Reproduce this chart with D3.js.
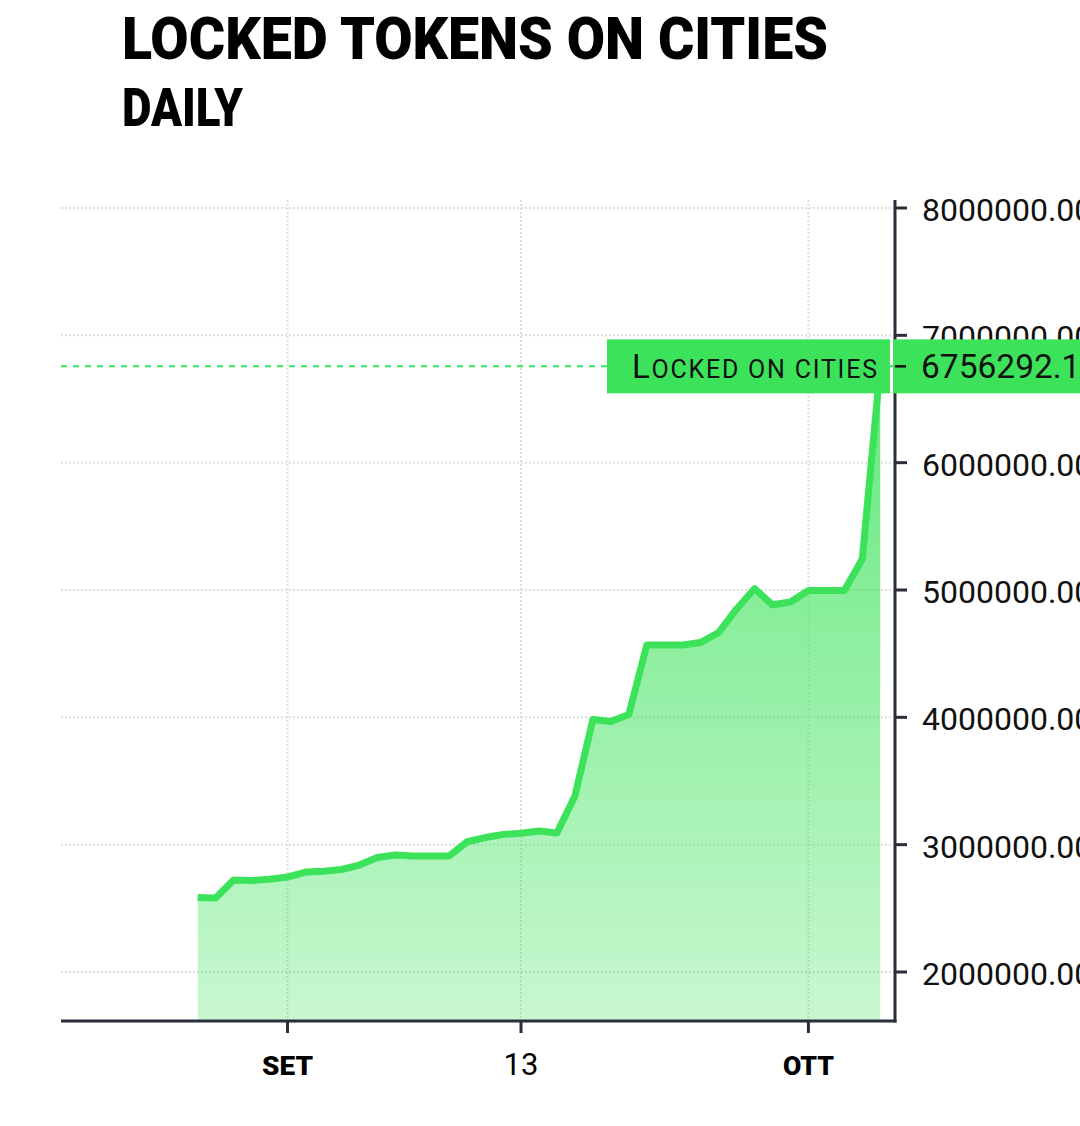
<!DOCTYPE html>
<html><head><meta charset="utf-8">
<script src="https://cdn.jsdelivr.net/npm/d3@7"></script>
<style>html,body{margin:0;padding:0;background:#fff;overflow:hidden}</style>
</head><body><svg id="c" width="1080" height="1126"></svg>
<script>
// ---- data ----
const title = "LOCKED TOKENS ON CITIES";
const subtitle = "DAILY";
const seriesName = "Locked on cities";
const values = [2585000, 2582000, 2722000, 2719000, 2728000, 2746000, 2785000, 2791000, 2805000, 2840000,
  2899000, 2919000, 2911000, 2911000, 2911000, 3023000, 3056000, 3080000, 3089000, 3107000,
  3092000, 3382000, 3983000, 3967000, 4022000, 4568000, 4568000, 4568000, 4588000, 4666000,
  4851000, 5010000, 4884000, 4906000, 4996000, 4996000, 4996000, 5244000, 6756292.1];
const xTickIndex = [5, 18, 34];
const xTickLabels = ["SET", "13", "OTT"];
const xTickBold = [true, false, true];
const yTicks = [2000000, 3000000, 4000000, 5000000, 6000000, 7000000, 8000000];

// ---- layout ----
const L = 61, R = 895, T = 200, B = 1021;
const green = "#3ce35a", axisCol = "#2a2d3a", gridCol = "#dedede";
const svg = d3.select("#c");
const x = d3.scaleLinear().domain([-7.61, 38.82]).range([L, R]);
const y = d3.scaleLinear().domain([1615200, 8062800]).range([B, T]);

// titles
svg.append("text").attr("x", 122).attr("y", 59).attr("font-family", "Roboto").attr("font-weight", 900)
  .attr("font-size", 59).attr("fill", "#000").attr("textLength", 706).attr("lengthAdjust", "spacingAndGlyphs").text(title);
svg.append("text").attr("x", 122).attr("y", 126).attr("font-family", "Roboto").attr("font-weight", 900)
  .attr("font-size", 53).attr("fill", "#000").attr("textLength", 121).attr("lengthAdjust", "spacingAndGlyphs").text(subtitle);

// grid
const grid = svg.append("g").attr("stroke", gridCol).attr("stroke-width", 2).attr("stroke-dasharray", "2,2");
grid.selectAll("line.h").data(yTicks).join("line").attr("class", "h")
  .attr("x1", L).attr("x2", R).attr("y1", d => y(d)).attr("y2", d => y(d));
grid.selectAll("line.v").data(xTickIndex).join("line").attr("class", "v")
  .attr("x1", d => x(d)).attr("x2", d => x(d)).attr("y1", T).attr("y2", B);

// area gradient
const last = values[values.length - 1];
const defs = svg.append("defs");
const grad = defs.append("linearGradient").attr("id", "ag").attr("gradientUnits", "userSpaceOnUse")
  .attr("x1", 0).attr("x2", 0).attr("y1", y(d3.max(values))).attr("y2", B);
grad.append("stop").attr("offset", 0).attr("stop-color", green).attr("stop-opacity", 0.8);
grad.append("stop").attr("offset", 1).attr("stop-color", green).attr("stop-opacity", 0.28);

const area = d3.area().x((d, i) => x(i)).y0(B).y1(d => y(d));
const line = d3.line().x((d, i) => x(i)).y(d => y(d));
svg.append("path").datum(values).attr("d", area).attr("fill", "url(#ag)");
svg.append("path").datum(values).attr("d", line).attr("fill", "none").attr("stroke", green)
  .attr("stroke-width", 7).attr("stroke-linejoin", "round");

// price line
svg.append("line").attr("x1", L).attr("x2", R).attr("y1", y(last)).attr("y2", y(last))
  .attr("stroke", green).attr("stroke-width", 2).attr("stroke-dasharray", "6,6");

// x axis
svg.append("line").attr("x1", L).attr("x2", R + 1.5).attr("y1", B).attr("y2", B).attr("stroke", axisCol).attr("stroke-width", 3);
svg.selectAll("line.xt").data(xTickIndex).join("line").attr("class", "xt")
  .attr("x1", d => x(d)).attr("x2", d => x(d)).attr("y1", B).attr("y2", B + 12)
  .attr("stroke", axisCol).attr("stroke-width", 3);
svg.selectAll("text.xl").data(xTickIndex).join("text").attr("class", "xl")
  .attr("x", d => x(d)).attr("y", 1075).attr("text-anchor", "middle").attr("font-family", "Roboto")
  .attr("fill", "#000")
  .attr("font-weight", (d, i) => xTickBold[i] ? 900 : 400)
  .attr("font-size", (d, i) => xTickBold[i] ? 26 : 31)
  .attr("textLength", (d, i) => xTickBold[i] ? 51 : null)
  .attr("lengthAdjust", "spacingAndGlyphs")
  .text((d, i) => xTickLabels[i]);

// y axis
svg.append("line").attr("x1", R).attr("x2", R).attr("y1", T).attr("y2", B + 1.5).attr("stroke", axisCol).attr("stroke-width", 3);
svg.selectAll("line.yt").data(yTicks).join("line").attr("class", "yt")
  .attr("x1", R).attr("x2", R + 12).attr("y1", d => y(d)).attr("y2", d => y(d))
  .attr("stroke", axisCol).attr("stroke-width", 3);
const fmt = d3.format(".2f");
svg.selectAll("text.yl").data(yTicks).join("text").attr("class", "yl")
  .attr("x", 922).attr("y", d => y(d) + 13).attr("font-family", "Roboto").attr("font-size", 32)
  .attr("fill", "#111").text(d => fmt(d));

// labels for last value
const ly = y(last);
const rb = svg.append("g");
rb.append("rect").attr("x", R - 2).attr("y", ly - 27).attr("width", 1080 - R + 2).attr("height", 54).attr("fill", green);
rb.append("line").attr("x1", R).attr("x2", R + 11).attr("y1", ly).attr("y2", ly).attr("stroke", "#111").attr("stroke-width", 2.5);
rb.append("text").attr("x", 921).attr("y", ly + 12).attr("font-family", "Roboto").attr("font-size", 33.5)
  .attr("fill", "#111").text(fmt(last));

const lb = svg.append("g");
const lrect = lb.append("rect").attr("fill", green);
const lt = lb.append("text").attr("x", R - 18).attr("y", ly + 12).attr("text-anchor", "end")
  .attr("font-family", "Roboto").attr("fill", "#111")
  .attr("textLength", 245).attr("lengthAdjust", "spacing");
lt.append("tspan").attr("font-size", 33).text(seriesName[0].toUpperCase());
lt.append("tspan").attr("font-size", 25).text(seriesName.slice(1).toUpperCase());
const bb = lt.node().getBBox();
lrect.attr("x", bb.x - 25).attr("y", ly - 27).attr("width", (R - 5) - (bb.x - 25)).attr("height", 54);
</script></body></html>
